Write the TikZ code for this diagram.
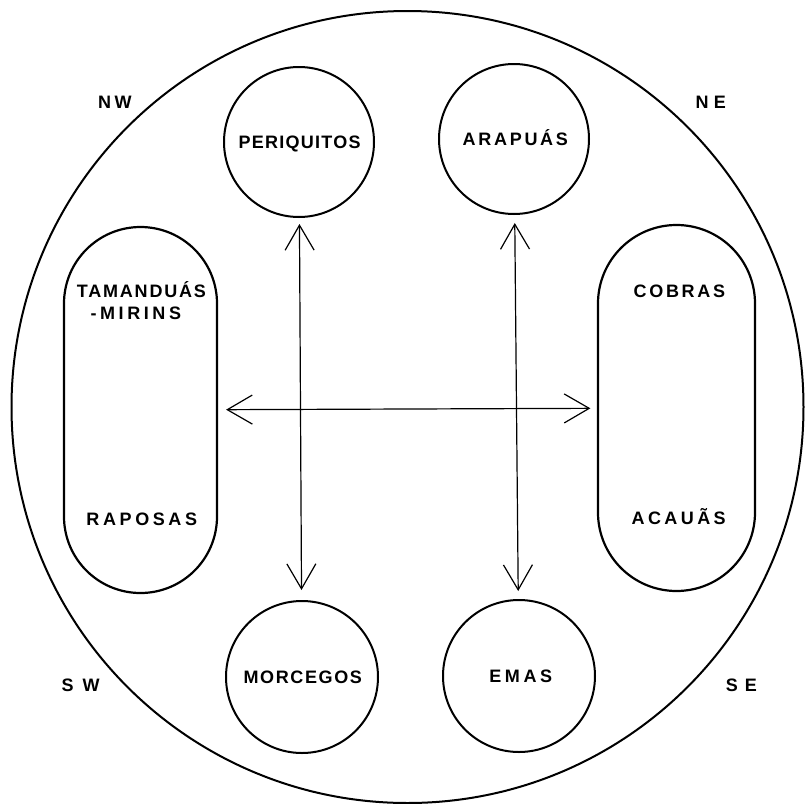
\documentclass[tikz,border=0pt]{standalone}
\usepackage{fontspec}
\setmainfont{Liberation Sans}
\usetikzlibrary{arrows.meta}
\newcommand\lsp[2]{{\addfontfeature{LetterSpace=#1}#2\kern-\fpeval{#1/100}em}}
\begin{document}
\begin{tikzpicture}[x=1pt,y=-1pt,
  lbl/.style={font=\fontsize{18}{18}\selectfont\bfseries, inner sep=0pt, text height=12.9pt, text depth=0pt},
  clan/.style={circle, draw, line width=2pt, minimum size=#1, inner sep=0pt, lbl},
  moiety/.style={draw, line width=2.2pt, rounded corners=76.5pt, minimum width=153pt, minimum height=366pt, inner sep=0pt},
  arr/.style={line width=1.2pt, {Straight Barb[length=25pt,width=29pt]}-{Straight Barb[length=25pt,width=29pt]}},
]
\useasboundingbox (0,0) rectangle (807,804);
\node[circle, draw, line width=2pt, minimum size=792pt, inner sep=0pt] (village) at (407.5,407) {};

\node[clan=150pt] (peri) at (299,142) {\lsp{7}{PERIQUITOS}};
\node[clan=150pt] (arap) at (514,139) {\lsp{15}{ARAPUÁS}};
\node[clan=152pt] (morc) at (302,677) {\lsp{9}{MORCEGOS}};
\node[clan=152pt] (emas) at (519,676) {\lsp{20}{EMAS}};

\node[moiety] (ls) at (140.5,410) {};
\node[moiety, minimum width=157pt, rounded corners=78.5pt] (rs) at (676.5,408) {};

\node[lbl] (tam) at (140.5,291) {\lsp{10}{TAMANDUÁS}};
\node[lbl] (mir) at (134,313) {\lsp{20}{-MIRINS}};
\node[lbl] (rap) at (140,519) {\lsp{20}{RAPOSAS}};
\node[lbl] (cob) at (678,291) {\lsp{15}{COBRAS}};
\node[lbl] (aca) at (677,518) {\lsp{19}{ACAUÃS}};

\node[lbl] (nw) at (113,102) {\lsp{20}{NW}};
\node[lbl] (ne) at (708,102) {\lsp{30}{NE}};
\node[lbl] (sw) at (76,685) {\lsp{50}{SW}};
\node[lbl] (se) at (738,685) {\lsp{38}{SE}};

\draw[arr, shorten <=6pt, shorten >=10pt] (peri) -- (morc);
\draw[arr, shorten <=8pt, shorten >=8pt] (arap) -- (emas);
\draw[arr, shorten <=8pt, shorten >=6.5pt] (ls) -- (rs);
\end{tikzpicture}
\end{document}
